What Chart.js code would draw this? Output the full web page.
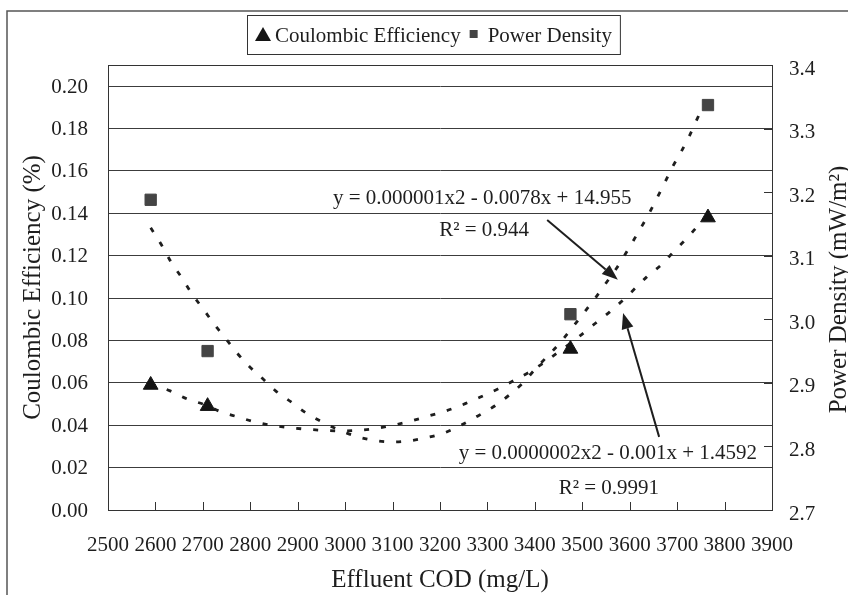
<!DOCTYPE html>
<html>
<head>
<meta charset="utf-8">
<script src="https://cdn.jsdelivr.net/npm/chart.js@4/dist/chart.umd.min.js"></script>
<style>
  html, body { margin: 0; padding: 0; background: #fff; }
</style>
</head>
<body>
<canvas id="codChart" width="848" height="595"></canvas>
<script>
// measured points (effluent COD, mg/L)
const codPoints = [2590, 2710, 3475, 3765];
const coulombicEff = [0.059, 0.049, 0.076, 0.138];
const powerDensity = [3.188, 2.950, 3.008, 3.337];

// polynomial trendlines
const ceTrendCod = [2590, 2631, 2667, 2709, 2738, 2774, 2810, 2848, 2886, 2920, 2953, 2991, 3029, 3065, 3101,
  3139, 3175, 3213, 3249, 3284, 3322, 3358, 3396, 3428, 3495, 3527, 3558, 3586, 3611, 3636, 3668, 3691, 3721, 3742, 3765];
const ceTrendVal = [0.0595, 0.0562, 0.0524, 0.0493, 0.0463, 0.0439, 0.0415, 0.0399, 0.0388, 0.0381, 0.0376, 0.0373, 0.0376, 0.0385, 0.0400,
  0.0420, 0.0443, 0.0468, 0.0498, 0.0532, 0.0571, 0.0614, 0.0661, 0.0710, 0.0822, 0.0880, 0.0935, 0.0991, 0.1045, 0.1100, 0.1160, 0.1215, 0.1283, 0.1336, 0.1385];
const pdTrendCod = [2590, 2612, 2633, 2656, 2677, 2702, 2723, 2749, 2772, 2799, 2827, 2854, 2886, 2917, 2953, 2990, 3027, 3065, 3101,
  3137, 3173, 3208, 3246, 3280, 3316, 3348, 3375, 3400, 3453, 3478, 3501, 3527, 3552, 3573, 3596, 3615, 3636, 3653, 3672, 3689, 3708, 3725, 3742, 3765];
const pdTrendVal = [3.144, 3.118, 3.090, 3.065, 3.040, 3.015, 2.993, 2.969, 2.947, 2.925, 2.906, 2.887, 2.870, 2.853, 2.838, 2.825, 2.815, 2.809, 2.807,
  2.809, 2.814, 2.821, 2.834, 2.848, 2.864, 2.882, 2.900, 2.921, 2.963, 2.986, 3.008, 3.033, 3.059, 3.081, 3.109, 3.133, 3.160, 3.184, 3.212, 3.238, 3.263, 3.287, 3.315, 3.350];

// axis ticks
const codTicks = [2500, 2600, 2700, 2800, 2900, 3000, 3100, 3200, 3300, 3400, 3500, 3600, 3700, 3800, 3900];
const ceTicks = [0, 0.02, 0.04, 0.06, 0.08, 0.10, 0.12, 0.14, 0.16, 0.18, 0.20];
const pdTicks = [2.7, 2.8, 2.9, 3.0, 3.1, 3.2, 3.3, 3.4];

// trendline labels, anchored in (COD, coulombic efficiency) units
const eqTexts = ["y = 0.000001x2 - 0.0078x + 14.955", "R\u00B2 = 0.944", "y = 0.0000002x2 - 0.001x + 1.4592", "R\u00B2 = 0.9991"];
const eqCod = [3289, 3293, 3554, 3556];
const eqCe = [0.1468, 0.1318, 0.0265, 0.0100];
// arrows: [fromCod, fromCe, toCod, toCe]
const arrows = [[3426, 0.1369, 3575, 0.1086], [3662, 0.0345, 3586, 0.0930]];

const SERIF = "'Liberation Serif', 'Times New Roman', serif";
const INK = "#1e1e1e";

function pts(xs, ys) { return xs.map((x, i) => ({x: x, y: ys[i]})); }

function drawArrow(ctx, x0, y0, x1, y1) {
    const ang = Math.atan2(y1 - y0, x1 - x0);
    const head = 16, half = 6;
    const bx = x1 - head * Math.cos(ang), by = y1 - head * Math.sin(ang);
    ctx.beginPath(); ctx.moveTo(x0, y0); ctx.lineTo(bx, by); ctx.stroke();
    ctx.beginPath();
    ctx.moveTo(x1, y1);
    ctx.lineTo(bx + half * Math.sin(ang), by - half * Math.cos(ang));
    ctx.lineTo(bx - half * Math.sin(ang), by + half * Math.cos(ang));
    ctx.closePath(); ctx.fill();
}

const decor = {
    id: "decor",
    afterDraw(chart) {
        const {ctx, chartArea: a, scales: {x, y, y2}} = chart;
        ctx.save();
        // figure frame (top and left)
        ctx.strokeStyle = "#555"; ctx.lineWidth = 1.5;
        ctx.beginPath(); ctx.moveTo(7, 595); ctx.lineTo(7, 11); ctx.lineTo(848, 11); ctx.stroke();
        // plot box top
        ctx.strokeStyle = "#333"; ctx.lineWidth = 1;
        ctx.beginPath(); ctx.moveTo(a.left, a.top + 0.5); ctx.lineTo(a.right, a.top + 0.5); ctx.stroke();
        // inward tick marks
        ctx.beginPath();
        x.ticks.forEach(t => { const px = Math.round(x.getPixelForValue(t.value)) + 0.5; ctx.moveTo(px, a.bottom); ctx.lineTo(px, a.bottom - 8); });
        y2.ticks.forEach(t => { const py = Math.round(y2.getPixelForValue(t.value)) + 0.5; ctx.moveTo(a.right, py); ctx.lineTo(a.right - 8, py); });
        ctx.stroke();

        ctx.fillStyle = INK; ctx.strokeStyle = INK;
        // equations
        ctx.font = "21px " + SERIF; ctx.textAlign = "center"; ctx.textBaseline = "middle";
        eqTexts.forEach((t, i) => ctx.fillText(t, x.getPixelForValue(eqCod[i]), y.getPixelForValue(eqCe[i])));
        ctx.lineWidth = 2;
        arrows.forEach(r => drawArrow(ctx, x.getPixelForValue(r[0]), y.getPixelForValue(r[1]), x.getPixelForValue(r[2]), y.getPixelForValue(r[3])));

        // axis titles
        ctx.font = "25px " + SERIF; ctx.textBaseline = "alphabetic";
        ctx.fillText("Effluent COD (mg/L)", (a.left + a.right) / 2, 587);
        const midY = (a.top + a.bottom) / 2;
        ctx.save(); ctx.translate(40, midY); ctx.rotate(-Math.PI / 2);
        ctx.fillText("Coulombic Efficiency (%)", 0, 0); ctx.restore();
        ctx.save(); ctx.translate(846, midY + 2); ctx.rotate(-Math.PI / 2);
        ctx.fillText("Power Density (mW/m\u00B2)", 0, 0); ctx.restore();

        // legend
        const ds = chart.data.datasets;
        ctx.font = "21px " + SERIF; ctx.textAlign = "left"; ctx.textBaseline = "middle";
        const top = 15, bottom = 54, cy = 35, left = 247;
        let cx = left + 16;
        ctx.fillStyle = ds[0].backgroundColor;
        ctx.beginPath(); ctx.moveTo(cx, cy - 8); ctx.lineTo(cx + 8, cy + 6); ctx.lineTo(cx - 8, cy + 6); ctx.closePath(); ctx.fill();
        cx += 12;
        ctx.fillStyle = INK; ctx.fillText(ds[0].label, cx, cy + 1);
        cx += ctx.measureText(ds[0].label).width + 13;
        ctx.fillStyle = ds[1].backgroundColor; ctx.fillRect(cx - 4, cy - 5, 8, 8);
        cx += 14;
        ctx.fillStyle = INK; ctx.fillText(ds[1].label, cx, cy + 1);
        cx += ctx.measureText(ds[1].label).width + 8;
        ctx.strokeStyle = "#333"; ctx.lineWidth = 1;
        ctx.strokeRect(left + 0.5, top + 0.5, cx - left, bottom - top);
        ctx.restore();
    }
};

const tickFont = {family: SERIF, size: 21};

new Chart(document.getElementById("codChart"), {
    type: "scatter",
    data: {
        datasets: [
            {label: "Coulombic Efficiency", data: pts(codPoints, coulombicEff), yAxisID: "y",
             pointStyle: "triangle", pointRadius: 8.5, backgroundColor: "#141414", borderColor: "#141414", borderWidth: 1},
            {label: "Power Density", data: pts(codPoints, powerDensity), yAxisID: "y2",
             pointStyle: "rect", pointRadius: 8, backgroundColor: "#444", borderColor: "#444", borderWidth: 1},
            {label: "CE trend", data: pts(ceTrendCod, ceTrendVal), yAxisID: "y", showLine: true, pointRadius: 0,
             borderColor: INK, borderWidth: 2.8, borderDash: [5, 12], cubicInterpolationMode: "monotone"},
            {label: "PD trend", data: pts(pdTrendCod, pdTrendVal), yAxisID: "y2", showLine: true, pointRadius: 0,
             borderColor: INK, borderWidth: 2.8, borderDash: [5, 12], cubicInterpolationMode: "monotone"}
        ]
    },
    options: {
        responsive: false,
        devicePixelRatio: 1,
        animation: false,
        layout: {padding: {top: 65, left: 0, right: 0, bottom: 0}},
        plugins: {legend: {display: false}, tooltip: {enabled: false}},
        scales: {
            x: {
                type: "linear", position: "bottom", min: 2500, max: 3900,
                afterBuildTicks: s => { s.ticks = codTicks.map(v => ({value: v})); },
                afterFit: s => { s.height = 85; },
                ticks: {font: tickFont, color: INK, padding: 23, maxRotation: 0, autoSkip: false, callback: v => String(v)},
                grid: {display: false, drawTicks: false},
                border: {color: "#333", width: 1}
            },
            y: {
                position: "left", min: 0, max: 0.21,
                afterBuildTicks: s => { s.ticks = ceTicks.map(v => ({value: v})); },
                afterFit: s => { s.width = 108; },
                ticks: {font: tickFont, color: INK, padding: 20, labelOffset: 1, callback: v => v.toFixed(2)},
                grid: {color: "#3c3c3c", lineWidth: 1, drawTicks: false},
                border: {color: "#333", width: 1}
            },
            y2: {
                position: "right", min: 2.7, max: 3.4,
                afterBuildTicks: s => { s.ticks = pdTicks.map(v => ({value: v})); },
                afterFit: s => { s.width = 76; },
                ticks: {font: tickFont, color: INK, padding: 17, labelOffset: 4, callback: v => v.toFixed(1)},
                grid: {drawOnChartArea: false, drawTicks: false},
                border: {color: "#333", width: 1}
            }
        }
    },
    plugins: [decor]
});
</script>
</body>
</html>
